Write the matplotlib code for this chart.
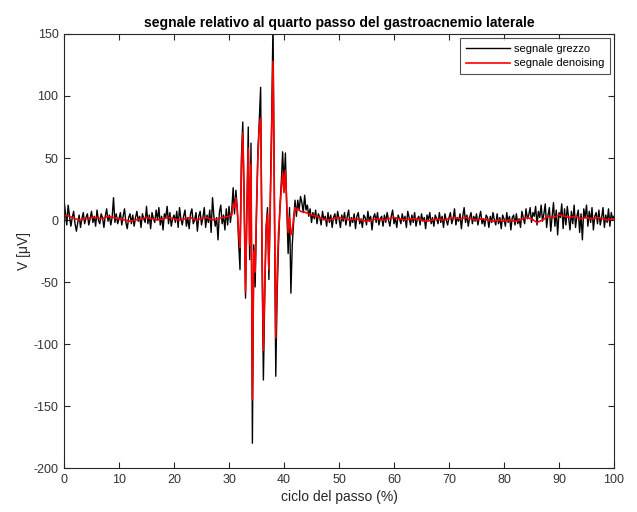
import numpy as np
import matplotlib
matplotlib.use("Agg")
import matplotlib.pyplot as plt

plt.rcParams['font.family'] = ['Liberation Sans', 'DejaVu Sans']
plt.rcParams['axes.unicode_minus'] = False

# Raw EMG samples (µV), 0.25 % step, before the burst (0 .. 30.25 %)
raw_pre = [
    16, 6, -4, 12, 3, -5, 2, 7, -3, -9,
    -2, 4, -6, 1, 6, -3, 2, 5, -4, 1,
    7, -2, 3, -5, 8, 0, -3, 5, 2, -6,
    3, 9, -1, 4, -4, 2, 18, -2, 5, -3,
    1, 6, -4, 3, 9, -2, -7, 2, 5, -3,
    4, -5, 2, 7, -1, 3, -6, 5, 1, -2,
    11, -3, 4, -7, 6, 1, -2, 8, 0, 10,
    -4, 3, -8, 5, 2, 11, -3, 6, -5, 1,
    4, -2, 7, -6, 10, 1, -4, 3, 8, -5,
    2, -7, 5, 9, -3, 0, 6, -9, 3, 7,
    -4, 2, 10, -6, 4, -2, 8, -10, 18, 3,
    -5, 2, -16, 6, 12, -3, 4, -8, 9, -4,
    11, -2,
]

# Raw samples in the activation burst (30.5 .. 43 %, 0.25 % step)
raw_burst = [
    8, 26, 5, 24, 10, -18, -40, 50, 79, 20,
    -63, 10, 75, -32, 62, -180, -20, -54, 5, 56,
    80, 107, -30, -129, -60, -5, 10, -48, 15, 80,
    160, 20, -126, -60, -20, 10, 30, 55, 28, 54,
    10, -27, 10, -59, -20, -2, 16, 3, 16, 8,
    19,
]

# Raw samples after the burst (43.25 .. 100 %)
raw_post = [
    14, 6, 20, 8, 12, 3, 9, -2, 6, 1, 8, -3,
    5, 2, -4, 7, 0, 3, -5, 6, -2, 4, -6, 2,
    5, -3, 7, 1, -6, 4, -1, 6, -4, 3, 8, -5,
    2, -2, 5, -7, 3, 6, -3, 1, -6, 4, 2, -4,
    7, -1, 3, -8, 2, 5, -2, 6, -4, 1, 3, -5,
    4, -2, 6, 0, -5, 3, 8, -3, 2, -6, 4, 1,
    -3, 5, -1, 3, -6, 7, 2, -4, 4, -2, 6, -5,
    1, 3, -4, 5, -1, 2, -7, 4, 0, 6, -3, 2,
    -5, 4, 1, -3, 6, -2, 3, -6, 5, 0, -4, 2,
    6, -3, 1, 9, -4, 2, -1, 5, -7, 3, 10, -2,
    4, -5, 2, 6, -3, 3, -1, 5, -4, 2, 7, -3,
    1, -5, 4, 2, -6, 3, -2, 6, 0, -4, 5, -3,
    2, -7, 4, 1, -5, 6, -2, 3, -8, 2, 4, -4,
    5, -3, 1, -6, 7, 2, -3, 9, 1, 4, 10, -2,
    6, 3, 11, -4, 7, 2, 12, -1, 5, 13, -6, 4,
    10, -9, 3, 14, -5, 8, -12, 6, 2, 13, -7, 9,
    -4, 11, 2, -8, 7, -3, 12, -6, 3, 8, -10, 5,
    -16, 9, 2, 12, -5, 7, -2, 10, -8, 3, 6, -3,
    8, -4, 2, 10, -6, 4, -2, 9, -5, 6, 1, 3,
]

# Denoised signal: 1 % step outside the burst, 0.25 % step inside it
den_pre = [4, 3, 1, 0, 1, 2, 2, 1, 3, 2, 1, 0, -1, 0, 1, 2,
           1, 0, 1, 2, 1, 0, 1, 2, 0, 1, 2, 0, 1, 2, 3]
den_burst = [
    4, 12, 10, 18, 8, -10, -22, 40, 70, 15,
    -58, 5, 58, -20, 45, -145, -25, -42, 10, 50,
    75, 82, -20, -105, -50, -8, 5, -40, 10, 70,
    128, 15, -95, -45, -10, 8, 25, 38, 22, 40,
    12, -10, 2, -12, -8, 2, 10, 8, 9, 8,
    7,
]
den_post = [6, 4, 3, 1, 0, 1, 2, 1, 0, 1, 0, -1, 0, 1, 0, 1, 2, 1, 0,
            1, 1, 0, -1, 0, 1, 0, 1, 2, 1, 2, 1, 0, 1, 0, -1, 0, -1, 0,
            -1, 0, 2, 1, -2, 0, 3, 2, 4, 3, 2, 3, 1, 2, 1, 2, 1, 0, 1]

x_raw = np.concatenate([
    np.linspace(0, 30.25, len(raw_pre)),
    30.5 + 0.25 * np.arange(len(raw_burst)),
    np.linspace(43.25, 100, len(raw_post)),
])
y_raw = np.array(raw_pre + raw_burst + raw_post, dtype=float)

x_den = np.concatenate([
    np.linspace(0, 30, len(den_pre)),
    30.5 + 0.25 * np.arange(len(den_burst)),
    np.linspace(44, 100, len(den_post)),
])
y_den = np.array(den_pre + den_burst + den_post, dtype=float)

fig = plt.figure(figsize=(6.37, 5.12), dpi=100, facecolor='white')
ax = fig.add_axes([0.1005, 0.0859, 0.8634, 0.8477])

ax.plot(x_raw, y_raw, color='black', lw=1.0, label='segnale grezzo')
ax.plot(x_den, y_den, color='red', lw=1.2, label='segnale denoising')

ax.set_xlim(0, 100)
ax.set_ylim(-200, 150)
ax.set_xticks(np.arange(0, 101, 10))
ax.set_yticks(np.arange(-200, 151, 50))

edge = '#262626'
for s in ax.spines.values():
    s.set_color(edge)
    s.set_linewidth(0.8)
ax.tick_params(direction='in', top=True, right=True, length=4, width=0.8,
               colors=edge, labelsize=9, labelcolor='#333333', pad=4)

ax.set_title('segnale relativo al quarto passo del gastroacnemio laterale',
             fontsize=10, fontweight='bold', color='black', pad=5)
ax.set_xlabel('ciclo del passo (%)', fontsize=10, color='#262626', labelpad=3)
ax.set_ylabel('V [\u03bcV]', fontsize=10, color='#262626', labelpad=2)

leg = ax.legend(loc='upper right', fontsize=8, frameon=True, fancybox=False,
                edgecolor=edge, handlelength=4.0, handletextpad=0.3,
                borderpad=0.5, labelspacing=0.4, borderaxespad=0.4)
leg.get_frame().set_linewidth(0.8)

fig.savefig('out.png', dpi=100, facecolor='white')
